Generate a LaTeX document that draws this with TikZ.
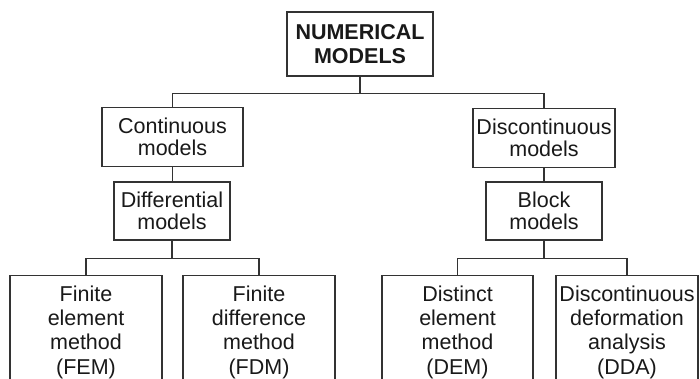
\documentclass[tikz,border=0pt]{standalone}
\usepackage{fontspec}
\setmainfont{Liberation Sans}
\usetikzlibrary{calc}

\tikzset{
  frame/.style={draw=black!80, line width=1.2pt, fill=white, align=center,
    inner xsep=2pt, font=\fontsize{21.5}{22}\selectfont, text=black!90},
  midbox/.style={frame, minimum height=59pt},
  leafbox/.style={frame, anchor=north, inner ysep=10pt,
    font=\fontsize{21.5}{24.3}\selectfont},
  link/.style={draw=black!80, line width=1.2pt}
}

\begin{document}
\begin{tikzpicture}[x=1pt, y=1pt]
  \fill[white] (0,0) rectangle (700,378);
  \useasboundingbox (0,0) rectangle (700,378);
  \clip (0,0) rectangle (700,378);

  % root
  \node[frame, minimum width=146pt, minimum height=64pt,
        font=\fontsize{21.5}{24}\selectfont\bfseries] (root) at (360,334)
        {NUMERICAL\\MODELS};

  % second and third levels
  \node[midbox, minimum width=141pt] (cont) at (172.5,241) {Continuous\\models};
  \node[midbox, minimum width=142pt] (disc) at (544,240) {Discontinuous\\models};
  \node[midbox, minimum width=116pt, minimum height=58pt] (diff) at (172,167) {Differential\\models};
  \node[midbox, minimum width=116pt, minimum height=58pt] (block) at (544,167) {Block\\models};

  % leaves (run past the lower edge)
  \node[leafbox, minimum width=152pt] (fem) at (86,103) {Finite\\element\\method\\(FEM)};
  \node[leafbox, minimum width=152pt] (fdm) at (259,103) {Finite\\difference\\method\\(FDM)};
  \node[leafbox, minimum width=151pt] (dem) at (457.5,103) {Distinct\\element\\method\\(DEM)};
  \node[leafbox, minimum width=142pt] (dda) at (627,103) {Discontinuous\\deformation\\analysis\\(DDA)};

  % junctions of the tree
  \coordinate (j1) at ($(root.south)+(0,-17)$);
  \coordinate (jl) at ($(diff.south)+(0,-18)$);
  \coordinate (jr) at ($(block.south)+(0,-18)$);

  \draw[link] (root.south) -- (j1);
  \draw[link] (cont.north) |- (j1);
  \draw[link] (disc.north) |- (j1);

  \draw[link] (cont.south) -- (cont.south |- diff.north);
  \draw[link] (disc.south) -- (disc.south |- block.north);

  \draw[link] (diff.south) -- (jl);
  \draw[link] (fem.north) |- (jl);
  \draw[link] (fdm.north) |- (jl);

  \draw[link] (block.south) -- (jr);
  \draw[link] (dem.north) |- (jr);
  \draw[link] (dda.north) |- (jr);
\end{tikzpicture}
\end{document}
